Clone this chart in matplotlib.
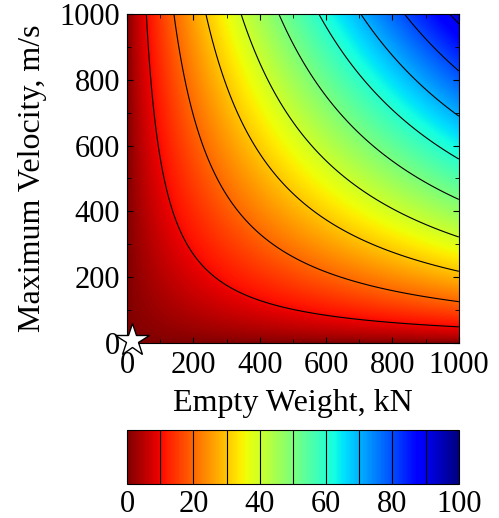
import numpy as np
import matplotlib
matplotlib.use("Agg")
import matplotlib.pyplot as plt

plt.rcParams['font.family'] = ['Liberation Serif', 'DejaVu Serif']

# grid axes (empty weight kN, max velocity m/s)
weight = np.linspace(0, 1000, 401)
velocity = np.linspace(0, 1000, 401)
# surface: value = peak * (W/1000)^w_exp * (V/1000)^v_exp
peak = 92.0
w_exp = 0.78
v_exp = 0.735
levels = [10, 20, 30, 40, 50, 60, 70, 80, 90]
cbar_ticks = [0, 20, 40, 60, 80, 100]
xticks = [0, 200, 400, 600, 800, 1000]
yticks = [0, 200, 400, 600, 800, 1000]
# marked design point
star_w = [15]
star_v = [8]


def main():
    W, V = np.meshgrid(weight, velocity)
    Z = peak * (W / 1000.0) ** w_exp * (V / 1000.0) ** v_exp

    fig = plt.figure(figsize=(4.99, 5.18), dpi=100)
    ax = fig.add_axes([0.2545, 0.338, 0.665, 0.635])
    im = ax.imshow(Z, origin='lower', extent=[0, 1000, 0, 1000], cmap='jet_r',
                   vmin=0, vmax=100, aspect='auto', interpolation='bilinear')
    cs = ax.contour(W, V, Z, levels=levels, colors='k', linewidths=0.8)
    ax.plot(star_w, star_v, marker='*', markersize=25, markerfacecolor='white',
            markeredgecolor='k', markeredgewidth=1.0, clip_on=False, zorder=5)

    ax.set_xlim(0, 1000)
    ax.set_ylim(0, 1000)
    ax.set_xticks(xticks)
    ax.set_yticks(yticks)
    ax.set_xticks(np.arange(100, 1000, 200), minor=True)
    ax.set_yticks(np.arange(100, 1000, 200), minor=True)
    ax.tick_params(which='both', direction='in', top=True, right=True,
                   labelsize=22)
    ax.tick_params(axis='x', pad=6)
    ax.tick_params(axis='y', pad=5)
    ax.tick_params(which='major', length=4)
    ax.tick_params(which='minor', length=3)
    ax.set_xlabel('Empty Weight, kN', fontsize=23, labelpad=6)
    ax.set_ylabel('Maximum Velocity, m/s', fontsize=23, labelpad=9)

    cax = fig.add_axes([0.2545, 0.0656, 0.665, 0.104])
    cbar = fig.colorbar(im, cax=cax, orientation='horizontal')
    cbar.add_lines(cs)
    cbar.set_ticks(cbar_ticks)
    cbar.ax.tick_params(length=0, labelsize=22, pad=4)

    fig.savefig('out.png', dpi=100)


if __name__ == '__main__':
    main()
